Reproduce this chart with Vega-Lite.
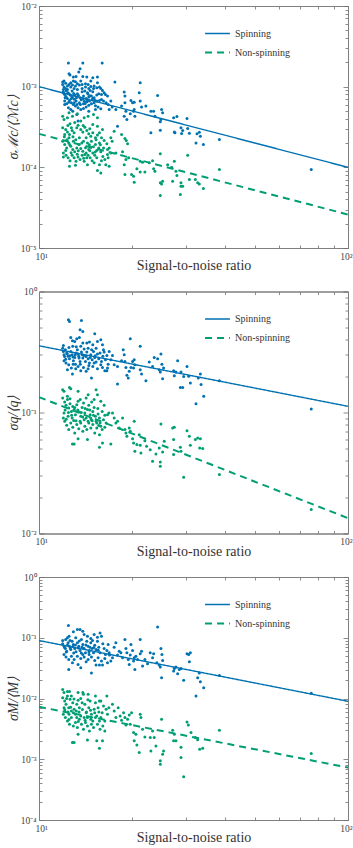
{
"$schema": "https://vega.github.io/schema/vega-lite/v6.json",
"padding": {"left": 5, "top": 0, "right": 0, "bottom": 0},
"spacing": 43.5,
"bounds": "flush",
"config": {
 "font": "Liberation Serif",
 "view": {"stroke": "#7f7f7f", "strokeWidth": 1},
 "axis": {"domainColor": "#7f7f7f", "tickColor": "#6f6f6f", "tickWidth": 0.8, "labelFont": "Liberation Serif", "labelFontSize": 9.5, "labelColor": "#444444", "titleFont": "Liberation Serif", "titleFontSize": 14, "titleFontWeight": "normal", "titleColor": "#333333", "grid": false, "labelFlush": false, "labelOverlap": false, "labelBound": false, "labelPadding": 8},
 "legend": {"labelFont": "Liberation Serif", "labelFontSize": 10, "labelColor": "#333333", "symbolType": "stroke", "symbolSize": 620, "labelOffset": 4, "rowPadding": -4, "title": null}
},
"datasets": {
 "l1": [{"snr":10,"err":1.0e-3,"kind":"Spinning"},{"snr":100,"err":1.0e-4,"kind":"Spinning"},{"snr":10,"err":2.6e-4,"kind":"Non-spinning"},{"snr":100,"err":2.6e-5,"kind":"Non-spinning"}],
 "l2": [{"snr":10,"err":0.356,"kind":"Spinning"},{"snr":100,"err":0.1125,"kind":"Spinning"},{"snr":10,"err":0.134,"kind":"Non-spinning"},{"snr":100,"err":0.0134,"kind":"Non-spinning"}],
 "l3": [{"snr":10,"err":0.090,"kind":"Spinning"},{"snr":100,"err":0.0090,"kind":"Spinning"},{"snr":10,"err":0.0073,"kind":"Non-spinning"},{"snr":100,"err":0.00073,"kind":"Non-spinning"}],
 "p1s": [
{"snr":17.60,"err":1.139e-3},{"snr":18.87,"err":8.56e-4},{"snr":18.97,"err":7.64e-4},{"snr":21.26,"err":1.118e-3},{"snr":18.97,"err":6.31e-4},{"snr":18.50,"err":5.74e-4},{"snr":17.73,"err":5.22e-4},{"snr":19.11,"err":4.97e-4},{"snr":19.84,"err":6.75e-4},{"snr":20.08,"err":6.31e-4},{"snr":20.33,"err":5.22e-4},{"snr":20.23,"err":4.97e-4},{"snr":19.74,"err":4.61e-4},{"snr":20.43,"err":4.31e-4},{"snr":17.95,"err":3.24e-4},{"snr":18.87,"err":4.31e-4},{"snr":19.25,"err":3.92e-4},{"snr":21.10,"err":8.40e-4},{"snr":21.26,"err":6.62e-4},{"snr":21.47,"err":5.58e-4},{"snr":20.33,"err":6.43e-4},{"snr":22.18,"err":5.74e-4},{"snr":23.02,"err":4.97e-4},{"snr":23.49,"err":4.97e-4},{"snr":23.72,"err":4.31e-4},{"snr":24.20,"err":7.78e-4},{"snr":24.93,"err":5.22e-4},{"snr":25.12,"err":4.74e-4},{"snr":23.02,"err":2.68e-4},{"snr":24.69,"err":2.89e-4},{"snr":24.81,"err":3.92e-4},{"snr":24.69,"err":3.67e-4},{"snr":27.27,"err":4.11e-4},{"snr":27.41,"err":2.75e-4},{"snr":27.54,"err":2.68e-4},{"snr":27.95,"err":4.27e-4},{"snr":28.81,"err":3.09e-4},{"snr":28.95,"err":2.63e-4},{"snr":29.17,"err":2.86e-4},{"snr":30.13,"err":4.03e-4},{"snr":30.28,"err":3.03e-4},{"snr":30.66,"err":2.65e-4},{"snr":32.46,"err":2.60e-4},{"snr":32.22,"err":2.01e-4},{"snr":33.03,"err":2.73e-4},{"snr":33.28,"err":2.43e-4},{"snr":34.04,"err":1.92e-4},{"snr":38.35,"err":2.21e-4},{"snr":76.04,"err":9.39e-5},
{"snr":12.45,"err":1.961e-3},{"snr":13.86,"err":1.961e-3},{"snr":16.01,"err":1.961e-3},{"snr":12.51,"err":1.446e-3},{"snr":12.60,"err":1.40e-3},{"snr":13.58,"err":1.668e-3},{"snr":13.45,"err":1.516e-3},{"snr":13.18,"err":1.340e-3},{"snr":13.86,"err":1.340e-3},{"snr":11.93,"err":1.139e-3},{"snr":11.93,"err":1.066e-3},{"snr":12.05,"err":9.88e-4},{"snr":11.99,"err":9.24e-4},{"snr":12.20,"err":9.51e-4},{"snr":12.36,"err":1.016e-3},{"snr":12.51,"err":1.066e-3},{"snr":12.67,"err":1.118e-3},{"snr":12.92,"err":1.172e-3},{"snr":13.12,"err":1.15e-3},{"snr":13.31,"err":1.086e-3},{"snr":13.51,"err":1.045e-3},{"snr":13.79,"err":1.066e-3},{"snr":14.14,"err":1.086e-3},{"snr":14.42,"err":1.066e-3},{"snr":14.71,"err":1.006e-3},{"snr":15.01,"err":9.51e-4},{"snr":15.38,"err":9.69e-4},{"snr":15.69,"err":9.88e-4},{"snr":15.85,"err":9.51e-4},{"snr":16.05,"err":8.98e-4},{"snr":16.25,"err":8.40e-4},{"snr":16.41,"err":8.01e-4},{"snr":16.66,"err":7.64e-4},{"snr":11.99,"err":8.64e-4},{"snr":12.11,"err":8.01e-4},{"snr":12.23,"err":7.56e-4},{"snr":12.36,"err":7.14e-4},{"snr":12.55,"err":6.75e-4},{"snr":12.73,"err":6.31e-4},{"snr":12.92,"err":6.02e-4},{"snr":13.12,"err":5.74e-4},{"snr":13.38,"err":5.47e-4},{"snr":13.65,"err":5.22e-4},{"snr":13.93,"err":5.37e-4},{"snr":14.21,"err":5.58e-4},{"snr":14.49,"err":5.90e-4},{"snr":14.78,"err":6.13e-4},{"snr":15.08,"err":6.31e-4},{"snr":15.38,"err":6.62e-4},{"snr":15.69,"err":6.75e-4},{"snr":15.93,"err":6.94e-4},{"snr":16.17,"err":6.62e-4},{"snr":16.49,"err":6.31e-4},{"snr":16.74,"err":6.02e-4},{"snr":12.45,"err":5.47e-4},{"snr":12.67,"err":5.22e-4},{"snr":13.25,"err":4.52e-4},{"snr":14.49,"err":4.97e-4},{"snr":15.23,"err":5.22e-4},{"snr":13.58,"err":7.28e-4},{"snr":13.93,"err":7.64e-4},{"snr":14.21,"err":7.14e-4},{"snr":14.49,"err":7.42e-4},{"snr":14.78,"err":7.64e-4},{"snr":15.08,"err":7.28e-4},{"snr":15.38,"err":7.86e-4},{"snr":13.31,"err":8.16e-4},{"snr":13.05,"err":7.86e-4},{"snr":12.80,"err":8.81e-4},{"snr":12.51,"err":8.16e-4},{"snr":13.31,"err":9.24e-4},{"snr":13.79,"err":8.64e-4},{"snr":14.07,"err":8.81e-4},{"snr":14.35,"err":8.40e-4},{"snr":14.64,"err":8.98e-4},{"snr":14.93,"err":8.64e-4},{"snr":15.61,"err":8.16e-4},{"snr":15.93,"err":8.01e-4},{"snr":12.36,"err":9.24e-4},{"snr":12.67,"err":9.88e-4},{"snr":12.99,"err":9.51e-4},{"snr":13.79,"err":9.51e-4},{"snr":14.14,"err":9.88e-4},{"snr":17.08,"err":6.62e-4},{"snr":17.25,"err":5.58e-4},{"snr":16.87,"err":5.22e-4},{"snr":15.85,"err":5.32e-4},{"snr":13.38,"err":3.74e-4},{"snr":12.86,"err":4.97e-4},{"snr":12.11,"err":6.62e-4},{"snr":12.11,"err":6.02e-4},{"snr":12.29,"err":6.13e-4},{"snr":12.83,"err":7.28e-4},{"snr":13.18,"err":6.62e-4},{"snr":13.51,"err":6.31e-4},{"snr":13.93,"err":6.13e-4},{"snr":14.28,"err":6.50e-4},{"snr":14.56,"err":6.62e-4},{"snr":14.86,"err":6.88e-4},{"snr":15.23,"err":5.79e-4},{"snr":15.53,"err":5.58e-4},{"snr":15.08,"err":1.016e-3},{"snr":15.46,"err":1.118e-3},{"snr":14.49,"err":9.51e-4},{"snr":14.71,"err":1.172e-3},{"snr":12.05,"err":1.172e-3},{"snr":12.20,"err":1.10e-3},{"snr":12.83,"err":1.045e-3},{"snr":13.12,"err":1.016e-3},{"snr":13.65,"err":1.172e-3},{"snr":14.93,"err":1.290e-3},{"snr":15.46,"err":1.314e-3},{"snr":14.28,"err":1.314e-3},{"snr":12.92,"err":1.314e-3},
{"snr":12.02,"err":8.3e-4},{"snr":12.26,"err":8.9e-4},{"snr":12.40,"err":8.4e-4},{"snr":12.62,"err":7.9e-4},{"snr":12.78,"err":7.6e-4},{"snr":12.95,"err":8.2e-4},{"snr":13.02,"err":7.0e-4},{"snr":13.22,"err":7.3e-4},{"snr":13.41,"err":7.8e-4},{"snr":13.70,"err":6.9e-4},{"snr":13.88,"err":7.1e-4},{"snr":14.02,"err":6.6e-4},{"snr":14.33,"err":6.9e-4},{"snr":14.60,"err":7.7e-4},{"snr":14.95,"err":7.2e-4},{"snr":15.15,"err":6.8e-4},{"snr":12.15,"err":7.3e-4},{"snr":12.48,"err":6.4e-4},{"snr":12.70,"err":7.1e-4},{"snr":13.00,"err":6.3e-4},{"snr":13.28,"err":6.0e-4},{"snr":13.62,"err":6.0e-4},{"snr":14.10,"err":6.2e-4},{"snr":14.40,"err":8.1e-4}
 ],
 "p1n": [
{"snr":17.51,"err":2.81e-4},{"snr":18.50,"err":2.55e-4},{"snr":18.97,"err":2.28e-4},{"snr":19.16,"err":2.15e-4},{"snr":19.35,"err":1.96e-4},{"snr":17.73,"err":1.51e-4},{"snr":18.64,"err":1.56e-4},{"snr":19.11,"err":1.25e-4},{"snr":18.87,"err":1.08e-4},{"snr":18.97,"err":8.14e-5},{"snr":19.50,"err":1.31e-4},{"snr":19.93,"err":8.14e-5},{"snr":20.23,"err":7.76e-5},{"snr":20.33,"err":6.54e-5},{"snr":20.74,"err":9.57e-5},{"snr":21.26,"err":1.19e-4},{"snr":21.26,"err":8.78e-5},{"snr":21.63,"err":1.16e-4},{"snr":22.01,"err":8.78e-5},{"snr":22.74,"err":1.14e-4},{"snr":23.31,"err":1.21e-4},{"snr":23.49,"err":9.57e-5},{"snr":23.72,"err":8.95e-5},{"snr":24.69,"err":1.47e-4},{"snr":24.69,"err":6.42e-5},{"snr":24.93,"err":6.23e-5},{"snr":25.12,"err":6.73e-5},{"snr":24.69,"err":4.47e-5},{"snr":26.08,"err":1.08e-4},{"snr":26.87,"err":1.00e-4},{"snr":27.07,"err":6.73e-5},{"snr":27.41,"err":1.19e-4},{"snr":27.75,"err":8.95e-5},{"snr":27.95,"err":7.91e-5},{"snr":28.81,"err":6.42e-5},{"snr":28.81,"err":5.83e-5},{"snr":28.67,"err":4.60e-5},{"snr":29.17,"err":5.83e-5},{"snr":30.28,"err":1.41e-4},{"snr":30.66,"err":7.06e-5},{"snr":32.06,"err":7.06e-5},{"snr":32.62,"err":6.42e-5},{"snr":33.03,"err":6.23e-5},{"snr":34.04,"err":5.46e-5},{"snr":38.35,"err":9.39e-5},
{"snr":11.93,"err":4.31e-4},{"snr":12.05,"err":3.92e-4},{"snr":12.36,"err":4.11e-4},{"snr":12.51,"err":4.74e-4},{"snr":12.60,"err":3.46e-4},{"snr":12.73,"err":3.09e-4},{"snr":11.93,"err":3.09e-4},{"snr":12.20,"err":2.94e-4},{"snr":12.36,"err":2.75e-4},{"snr":12.55,"err":2.55e-4},{"snr":12.80,"err":2.86e-4},{"snr":12.99,"err":2.68e-4},{"snr":13.25,"err":3.09e-4},{"snr":13.38,"err":3.33e-4},{"snr":13.65,"err":2.94e-4},{"snr":13.86,"err":2.75e-4},{"snr":14.07,"err":3.15e-4},{"snr":14.28,"err":2.86e-4},{"snr":14.49,"err":2.60e-4},{"snr":14.71,"err":2.43e-4},{"snr":14.93,"err":2.68e-4},{"snr":15.23,"err":2.32e-4},{"snr":15.46,"err":2.51e-4},{"snr":15.69,"err":2.68e-4},{"snr":15.93,"err":2.32e-4},{"snr":16.25,"err":2.15e-4},{"snr":16.58,"err":1.96e-4},{"snr":11.93,"err":2.11e-4},{"snr":12.11,"err":1.92e-4},{"snr":12.29,"err":1.74e-4},{"snr":12.48,"err":2.01e-4},{"snr":12.67,"err":1.83e-4},{"snr":12.86,"err":1.66e-4},{"snr":13.05,"err":1.56e-4},{"snr":13.25,"err":1.74e-4},{"snr":13.45,"err":1.92e-4},{"snr":13.65,"err":1.71e-4},{"snr":13.86,"err":1.58e-4},{"snr":14.07,"err":1.44e-4},{"snr":14.28,"err":1.31e-4},{"snr":14.49,"err":1.66e-4},{"snr":14.71,"err":1.78e-4},{"snr":14.93,"err":1.51e-4},{"snr":15.15,"err":1.41e-4},{"snr":15.38,"err":1.62e-4},{"snr":15.61,"err":1.74e-4},{"snr":15.85,"err":1.56e-4},{"snr":16.09,"err":1.36e-4},{"snr":16.33,"err":1.25e-4},{"snr":16.66,"err":1.44e-4},{"snr":11.99,"err":1.51e-4},{"snr":12.23,"err":1.41e-4},{"snr":12.42,"err":1.31e-4},{"snr":12.60,"err":1.21e-4},{"snr":12.80,"err":1.41e-4},{"snr":12.99,"err":1.31e-4},{"snr":13.18,"err":1.19e-4},{"snr":13.38,"err":1.34e-4},{"snr":13.58,"err":1.25e-4},{"snr":13.79,"err":1.41e-4},{"snr":14.00,"err":1.19e-4},{"snr":14.21,"err":1.51e-4},{"snr":14.42,"err":1.41e-4},{"snr":14.64,"err":1.31e-4},{"snr":14.86,"err":1.21e-4},{"snr":15.08,"err":1.14e-4},{"snr":15.38,"err":1.31e-4},{"snr":15.69,"err":1.08e-4},{"snr":15.93,"err":1.21e-4},{"snr":11.99,"err":1.34e-4},{"snr":12.55,"err":1.03e-4},{"snr":13.12,"err":1.06e-4},{"snr":14.35,"err":1.08e-4},{"snr":15.46,"err":9.13e-5},{"snr":15.85,"err":8.53e-5},{"snr":17.08,"err":2.32e-4},{"snr":17.25,"err":2.11e-4},{"snr":16.87,"err":1.74e-4},{"snr":17.08,"err":1.51e-4},{"snr":16.66,"err":1.66e-4},{"snr":16.74,"err":1.31e-4},{"snr":16.45,"err":1.08e-4},{"snr":16.87,"err":1.03e-4},{"snr":12.51,"err":2.32e-4},{"snr":12.92,"err":2.11e-4},{"snr":13.51,"err":2.32e-4},{"snr":13.93,"err":2.11e-4},{"snr":14.35,"err":2.01e-4},{"snr":14.78,"err":2.11e-4},{"snr":15.23,"err":1.92e-4},{"snr":15.69,"err":2.01e-4},{"snr":16.17,"err":1.74e-4},{"snr":12.11,"err":2.55e-4},{"snr":13.65,"err":3.74e-4},{"snr":14.00,"err":4.11e-4},{"snr":14.42,"err":4.31e-4},{"snr":15.01,"err":4.52e-4},{"snr":15.46,"err":4.11e-4},{"snr":13.31,"err":4.61e-4},{"snr":12.83,"err":4.31e-4},{"snr":14.93,"err":3.40e-4},{"snr":15.46,"err":3.24e-4},{"snr":16.05,"err":2.94e-4},{"snr":14.21,"err":2.32e-4},
{"snr":12.08,"err":2.4e-4},{"snr":12.32,"err":2.2e-4},{"snr":12.58,"err":1.9e-4},{"snr":12.88,"err":2.4e-4},{"snr":13.15,"err":2.2e-4},{"snr":13.40,"err":1.6e-4},{"snr":13.75,"err":2.0e-4},{"snr":14.15,"err":1.75e-4},{"snr":14.55,"err":1.9e-4},{"snr":15.00,"err":1.8e-4},{"snr":15.30,"err":2.2e-4},{"snr":15.80,"err":1.9e-4},{"snr":12.20,"err":1.62e-4},{"snr":12.70,"err":1.52e-4},{"snr":13.30,"err":1.45e-4},{"snr":13.95,"err":1.3e-4},{"snr":14.60,"err":1.6e-4},{"snr":15.20,"err":1.55e-4},{"snr":12.40,"err":3.3e-4},{"snr":13.05,"err":3.6e-4},{"snr":13.90,"err":3.3e-4},{"snr":14.60,"err":3.0e-4}
 ],
 "p2s": [
{"snr":17.29,"err":0.296},{"snr":17.51,"err":0.248},{"snr":17.95,"err":0.240},{"snr":17.95,"err":0.172},{"snr":18.50,"err":0.268},{"snr":18.73,"err":0.330},{"snr":18.87,"err":0.300},{"snr":18.97,"err":0.264},{"snr":19.11,"err":0.236},{"snr":19.25,"err":0.203},{"snr":19.45,"err":0.193},{"snr":19.59,"err":0.219},{"snr":19.74,"err":0.407},{"snr":19.84,"err":0.236},{"snr":20.08,"err":0.264},{"snr":20.23,"err":0.233},{"snr":20.33,"err":0.273},{"snr":20.43,"err":0.248},{"snr":21.26,"err":0.352},{"snr":21.26,"err":0.226},{"snr":21.47,"err":0.208},{"snr":22.18,"err":0.183},{"snr":22.74,"err":0.261},{"snr":23.31,"err":0.240},{"snr":23.60,"err":0.285},{"snr":24.20,"err":0.278},{"snr":24.50,"err":0.226},{"snr":24.69,"err":0.216},{"snr":24.81,"err":0.304},{"snr":24.99,"err":0.251},{"snr":25.12,"err":0.190},{"snr":25.30,"err":0.233},{"snr":27.27,"err":0.221},{"snr":27.41,"err":0.201},{"snr":27.75,"err":0.216},{"snr":28.10,"err":0.268},{"snr":28.67,"err":0.161},{"snr":29.17,"err":0.161},{"snr":28.81,"err":0.216},{"snr":29.39,"err":0.198},{"snr":30.13,"err":0.240},{"snr":30.51,"err":0.199},{"snr":30.89,"err":0.175},{"snr":32.22,"err":0.118},{"snr":32.78,"err":0.193},{"snr":33.28,"err":0.208},{"snr":33.45,"err":0.170},{"snr":34.12,"err":0.136},{"snr":38.35,"err":0.183},{"snr":76.04,"err":0.107},
{"snr":12.45,"err":0.583},{"snr":12.55,"err":0.565},{"snr":13.72,"err":0.576},{"snr":13.58,"err":0.483},{"snr":13.86,"err":0.468},{"snr":15.15,"err":0.447},{"snr":12.67,"err":0.417},{"snr":12.83,"err":0.392},{"snr":13.05,"err":0.387},{"snr":13.25,"err":0.407},{"snr":13.51,"err":0.417},{"snr":14.28,"err":0.375},{"snr":14.56,"err":0.382},{"snr":14.93,"err":0.363},{"snr":15.46,"err":0.387},{"snr":15.85,"err":0.399},{"snr":16.05,"err":0.363},{"snr":11.93,"err":0.340},{"snr":11.99,"err":0.320},{"snr":12.05,"err":0.300},{"snr":12.17,"err":0.330},{"snr":12.29,"err":0.310},{"snr":12.42,"err":0.291},{"snr":12.55,"err":0.278},{"snr":12.67,"err":0.320},{"snr":12.80,"err":0.300},{"snr":12.92,"err":0.268},{"snr":13.05,"err":0.285},{"snr":13.18,"err":0.310},{"snr":13.31,"err":0.330},{"snr":13.45,"err":0.291},{"snr":13.58,"err":0.264},{"snr":13.72,"err":0.316},{"snr":13.86,"err":0.282},{"snr":14.00,"err":0.296},{"snr":14.14,"err":0.264},{"snr":14.28,"err":0.316},{"snr":14.42,"err":0.278},{"snr":14.56,"err":0.256},{"snr":14.71,"err":0.300},{"snr":14.86,"err":0.273},{"snr":15.01,"err":0.320},{"snr":15.15,"err":0.285},{"snr":15.30,"err":0.261},{"snr":15.46,"err":0.304},{"snr":15.61,"err":0.278},{"snr":15.76,"err":0.310},{"snr":15.93,"err":0.264},{"snr":16.09,"err":0.291},{"snr":16.25,"err":0.316},{"snr":16.41,"err":0.273},{"snr":16.58,"err":0.296},{"snr":16.74,"err":0.251},{"snr":12.05,"err":0.268},{"snr":12.23,"err":0.256},{"snr":12.48,"err":0.248},{"snr":12.73,"err":0.233},{"snr":13.12,"err":0.251},{"snr":13.38,"err":0.240},{"snr":13.93,"err":0.236},{"snr":14.42,"err":0.230},{"snr":14.93,"err":0.240},{"snr":15.46,"err":0.230},{"snr":16.05,"err":0.236},{"snr":16.58,"err":0.221},{"snr":12.83,"err":0.208},{"snr":14.78,"err":0.193},{"snr":14.21,"err":0.219},{"snr":13.65,"err":0.221},{"snr":13.15,"err":0.230},{"snr":12.36,"err":0.226},{"snr":12.86,"err":0.352},{"snr":13.65,"err":0.352},{"snr":14.42,"err":0.340},{"snr":15.30,"err":0.340},{"snr":16.17,"err":0.330},{"snr":11.99,"err":0.358},{"snr":17.08,"err":0.273},{"snr":16.87,"err":0.320},{"snr":16.66,"err":0.233},{"snr":16.33,"err":0.221},{"snr":13.86,"err":0.375},{"snr":15.08,"err":0.256},{"snr":15.85,"err":0.248},{"snr":13.48,"err":0.282},
{"snr":12.10,"err":0.290},{"snr":12.35,"err":0.305},{"snr":12.60,"err":0.295},{"snr":12.88,"err":0.288},{"snr":13.10,"err":0.300},{"snr":13.40,"err":0.305},{"snr":13.80,"err":0.300},{"snr":14.20,"err":0.290},{"snr":14.65,"err":0.285},{"snr":15.20,"err":0.295},{"snr":12.20,"err":0.275},{"snr":12.90,"err":0.250},{"snr":13.60,"err":0.250},{"snr":14.50,"err":0.245},{"snr":12.50,"err":0.345},{"snr":13.20,"err":0.350},{"snr":14.00,"err":0.335},{"snr":14.80,"err":0.330}
 ],
 "p2n": [
{"snr":17.29,"err":0.0991},{"snr":17.51,"err":0.0901},{"snr":17.73,"err":0.0819},{"snr":17.95,"err":0.0845},{"snr":18.18,"err":0.0745},{"snr":18.64,"err":0.0901},{"snr":18.97,"err":0.0722},{"snr":19.11,"err":0.0677},{"snr":19.25,"err":0.0636},{"snr":19.59,"err":0.0745},{"snr":19.74,"err":0.0699},{"snr":20.08,"err":0.0608},{"snr":20.23,"err":0.0560},{"snr":20.33,"err":0.0845},{"snr":20.43,"err":0.0478},{"snr":20.74,"err":0.0543},{"snr":21.10,"err":0.0656},{"snr":21.26,"err":0.0536},{"snr":21.37,"err":0.0463},{"snr":22.01,"err":0.0585},{"snr":22.29,"err":0.0526},{"snr":22.91,"err":0.0493},{"snr":23.31,"err":0.0395},{"snr":23.90,"err":0.0454},{"snr":24.50,"err":0.0509},{"snr":24.69,"err":0.0390},{"snr":24.69,"err":0.0359},{"snr":24.81,"err":0.0804},{"snr":25.12,"err":0.0472},{"snr":25.43,"err":0.0578},{"snr":27.07,"err":0.0745},{"snr":27.27,"err":0.0597},{"snr":27.41,"err":0.0754},{"snr":27.27,"err":0.0449},{"snr":28.67,"err":0.0516},{"snr":28.81,"err":0.0478},{"snr":29.39,"err":0.0292},{"snr":30.13,"err":0.0708},{"snr":30.66,"err":0.0636},{"snr":30.89,"err":0.0536},{"snr":32.06,"err":0.0597},{"snr":32.62,"err":0.0616},{"snr":33.11,"err":0.0509},{"snr":33.28,"err":0.0608},{"snr":33.87,"err":0.0503},{"snr":38.35,"err":0.0307},{"snr":76.04,"err":0.0158},
{"snr":11.93,"err":0.154},{"snr":12.05,"err":0.150},{"snr":12.36,"err":0.136},{"snr":12.55,"err":0.161},{"snr":12.67,"err":0.157},{"snr":11.93,"err":0.132},{"snr":12.11,"err":0.122},{"snr":12.23,"err":0.115},{"snr":12.36,"err":0.128},{"snr":12.48,"err":0.109},{"snr":12.60,"err":0.118},{"snr":12.73,"err":0.102},{"snr":12.86,"err":0.112},{"snr":12.99,"err":0.106},{"snr":13.12,"err":0.0960},{"snr":13.25,"err":0.116},{"snr":13.38,"err":0.124},{"snr":13.51,"err":0.101},{"snr":13.65,"err":0.0930},{"snr":13.79,"err":0.110},{"snr":13.93,"err":0.120},{"snr":14.07,"err":0.0991},{"snr":14.21,"err":0.0901},{"snr":14.35,"err":0.106},{"snr":14.49,"err":0.115},{"snr":14.64,"err":0.0960},{"snr":14.78,"err":0.0873},{"snr":14.93,"err":0.102},{"snr":15.08,"err":0.110},{"snr":15.23,"err":0.0930},{"snr":15.38,"err":0.0819},{"snr":15.53,"err":0.0972},{"snr":15.69,"err":0.0901},{"snr":15.85,"err":0.0769},{"snr":16.01,"err":0.102},{"snr":16.17,"err":0.0873},{"snr":16.33,"err":0.0948},{"snr":16.49,"err":0.0819},{"snr":16.66,"err":0.0960},{"snr":16.83,"err":0.0991},{"snr":11.99,"err":0.0901},{"snr":12.11,"err":0.0845},{"snr":12.29,"err":0.0783},{"snr":12.48,"err":0.0722},{"snr":12.67,"err":0.0819},{"snr":12.86,"err":0.0754},{"snr":13.05,"err":0.0677},{"snr":13.25,"err":0.0794},{"snr":13.45,"err":0.0735},{"snr":13.65,"err":0.0819},{"snr":13.86,"err":0.0699},{"snr":14.07,"err":0.0769},{"snr":14.28,"err":0.0722},{"snr":14.49,"err":0.0819},{"snr":14.71,"err":0.0745},{"snr":14.93,"err":0.0794},{"snr":15.15,"err":0.0677},{"snr":15.38,"err":0.0745},{"snr":15.69,"err":0.0656},{"snr":16.01,"err":0.0722},{"snr":16.33,"err":0.0754},{"snr":12.05,"err":0.0991},{"snr":12.42,"err":0.0930},{"snr":12.80,"err":0.0901},{"snr":13.18,"err":0.0856},{"snr":13.58,"err":0.0845},{"snr":14.00,"err":0.0873},{"snr":14.42,"err":0.0845},{"snr":14.86,"err":0.0856},{"snr":15.30,"err":0.0845},{"snr":15.76,"err":0.0819},{"snr":12.83,"err":0.0550},{"snr":12.99,"err":0.0550},{"snr":13.38,"err":0.0608},{"snr":14.35,"err":0.0597},{"snr":15.69,"err":0.0516},{"snr":16.05,"err":0.0560},{"snr":17.08,"err":0.0550},{"snr":15.46,"err":0.140},{"snr":15.08,"err":0.128},{"snr":15.85,"err":0.124},{"snr":16.25,"err":0.115},{"snr":14.21,"err":0.132},{"snr":13.38,"err":0.150},{"snr":14.42,"err":0.140},{"snr":15.30,"err":0.154},
{"snr":12.15,"err":0.105},{"snr":12.45,"err":0.100},{"snr":12.75,"err":0.095},{"snr":13.05,"err":0.110},{"snr":13.35,"err":0.105},{"snr":13.70,"err":0.100},{"snr":14.10,"err":0.108},{"snr":14.60,"err":0.105},{"snr":15.00,"err":0.095},{"snr":15.50,"err":0.108},{"snr":12.25,"err":0.088},{"snr":12.95,"err":0.086},{"snr":13.85,"err":0.092},{"snr":14.70,"err":0.090},{"snr":15.60,"err":0.078},{"snr":12.60,"err":0.130},{"snr":13.60,"err":0.128},{"snr":14.80,"err":0.122}
 ],
 "p3s": [
{"snr":17.51,"err":0.0700},{"snr":17.73,"err":0.0825},{"snr":17.95,"err":0.0518},{"snr":18.18,"err":0.0602},{"snr":18.41,"err":0.0565},{"snr":18.64,"err":0.0468},{"snr":18.97,"err":0.0936},{"snr":19.11,"err":0.0666},{"snr":19.25,"err":0.0565},{"snr":19.45,"err":0.0440},{"snr":19.59,"err":0.0364},{"snr":19.74,"err":0.0518},{"snr":19.84,"err":0.0775},{"snr":20.08,"err":0.0618},{"snr":20.23,"err":0.0413},{"snr":20.33,"err":0.0468},{"snr":20.43,"err":0.0301},{"snr":20.58,"err":0.0498},{"snr":20.84,"err":0.0440},{"snr":21.26,"err":0.0936},{"snr":21.26,"err":0.0545},{"snr":21.47,"err":0.0602},{"snr":21.63,"err":0.0342},{"snr":22.01,"err":0.0440},{"snr":22.45,"err":0.0373},{"snr":22.91,"err":0.0565},{"snr":23.31,"err":0.0468},{"snr":23.49,"err":0.0545},{"snr":24.08,"err":0.0387},{"snr":24.20,"err":0.151},{"snr":24.50,"err":0.0355},{"snr":24.69,"err":0.0329},{"snr":24.81,"err":0.0666},{"snr":24.93,"err":0.0220},{"snr":24.99,"err":0.0531},{"snr":25.12,"err":0.0423},{"snr":27.27,"err":0.0283},{"snr":27.41,"err":0.0313},{"snr":27.75,"err":0.0329},{"snr":28.10,"err":0.0256},{"snr":28.45,"err":0.0301},{"snr":28.81,"err":0.0313},{"snr":29.39,"err":0.0199},{"snr":30.13,"err":0.0545},{"snr":30.51,"err":0.0531},{"snr":30.66,"err":0.0402},{"snr":30.89,"err":0.0565},{"snr":32.22,"err":0.0110},{"snr":32.62,"err":0.0220},{"snr":33.03,"err":0.0262},{"snr":33.28,"err":0.0189},{"snr":34.12,"err":0.0151},{"snr":38.35,"err":0.0240},{"snr":76.04,"err":0.0122},
{"snr":12.45,"err":0.159},{"snr":13.31,"err":0.137},{"snr":13.58,"err":0.137},{"snr":13.86,"err":0.128},{"snr":12.92,"err":0.125},{"snr":12.51,"err":0.106},{"snr":12.20,"err":0.0936},{"snr":11.93,"err":0.0901},{"snr":11.93,"err":0.0795},{"snr":12.05,"err":0.0727},{"snr":12.17,"err":0.0666},{"snr":12.29,"err":0.0602},{"snr":12.42,"err":0.0825},{"snr":12.55,"err":0.0727},{"snr":12.67,"err":0.0641},{"snr":12.80,"err":0.0879},{"snr":12.92,"err":0.0775},{"snr":13.05,"err":0.0666},{"snr":13.18,"err":0.0587},{"snr":13.31,"err":0.0825},{"snr":13.45,"err":0.0727},{"snr":13.58,"err":0.0618},{"snr":13.72,"err":0.0936},{"snr":13.86,"err":0.0775},{"snr":14.00,"err":0.0666},{"snr":14.14,"err":0.0565},{"snr":14.28,"err":0.0879},{"snr":14.42,"err":0.0727},{"snr":14.56,"err":0.0618},{"snr":14.71,"err":0.0825},{"snr":14.86,"err":0.0666},{"snr":15.01,"err":0.0565},{"snr":15.15,"err":0.0755},{"snr":15.30,"err":0.0641},{"snr":15.46,"err":0.0879},{"snr":15.61,"err":0.0700},{"snr":15.76,"err":0.0565},{"snr":15.93,"err":0.106},{"snr":16.09,"err":0.0795},{"snr":16.25,"err":0.0666},{"snr":16.41,"err":0.0531},{"snr":16.58,"err":0.0618},{"snr":16.74,"err":0.0775},{"snr":16.91,"err":0.0518},{"snr":12.05,"err":0.0531},{"snr":12.23,"err":0.0480},{"snr":12.48,"err":0.0440},{"snr":12.73,"err":0.0498},{"snr":12.99,"err":0.0440},{"snr":13.31,"err":0.0498},{"snr":13.65,"err":0.0456},{"snr":14.00,"err":0.0480},{"snr":14.42,"err":0.0440},{"snr":14.78,"err":0.0480},{"snr":15.15,"err":0.0423},{"snr":15.53,"err":0.0468},{"snr":15.93,"err":0.0413},{"snr":16.33,"err":0.0456},{"snr":16.66,"err":0.0387},{"snr":12.48,"err":0.0301},{"snr":12.83,"err":0.0387},{"snr":13.38,"err":0.0364},{"snr":14.78,"err":0.0262},{"snr":15.30,"err":0.0355},{"snr":15.69,"err":0.0355},{"snr":16.05,"err":0.0355},{"snr":14.35,"err":0.106},{"snr":15.08,"err":0.113},{"snr":15.76,"err":0.120},{"snr":14.00,"err":0.113},{"snr":14.71,"err":0.0972},{"snr":15.46,"err":0.102},{"snr":12.36,"err":0.0997},{"snr":13.15,"err":0.0997},{"snr":13.86,"err":0.0531},{"snr":14.53,"err":0.0531},{"snr":14.21,"err":0.0402},{"snr":13.65,"err":0.0321},{"snr":17.08,"err":0.0413},{"snr":16.87,"err":0.0565},{"snr":17.29,"err":0.0468},
{"snr":12.10,"err":0.0690},{"snr":12.36,"err":0.0760},{"snr":12.62,"err":0.0680},{"snr":12.86,"err":0.0720},{"snr":13.12,"err":0.0760},{"snr":13.40,"err":0.0680},{"snr":13.78,"err":0.0700},{"snr":14.18,"err":0.0760},{"snr":14.62,"err":0.0700},{"snr":15.05,"err":0.0690},{"snr":15.55,"err":0.0620},{"snr":12.25,"err":0.0580},{"snr":12.95,"err":0.0560},{"snr":13.70,"err":0.0560},{"snr":14.50,"err":0.0580},{"snr":12.60,"err":0.0900},{"snr":13.50,"err":0.0880},{"snr":14.90,"err":0.0900}
 ],
 "p3n": [
{"snr":17.29,"err":0.00802},{"snr":17.51,"err":0.00623},{"snr":17.73,"err":0.00485},{"snr":18.04,"err":0.00707},{"snr":18.31,"err":0.00516},{"snr":18.50,"err":0.00438},{"snr":18.78,"err":0.00585},{"snr":18.97,"err":0.00485},{"snr":19.11,"err":0.00367},{"snr":19.35,"err":0.00455},{"snr":19.59,"err":0.00536},{"snr":19.74,"err":0.00377},{"snr":19.93,"err":0.00585},{"snr":20.23,"err":0.00275},{"snr":20.33,"err":0.00201},{"snr":20.58,"err":0.00258},{"snr":20.74,"err":0.00172},{"snr":21.10,"err":0.00129},{"snr":21.26,"err":0.00550},{"snr":21.37,"err":0.00485},{"snr":21.63,"err":0.00312},{"snr":22.01,"err":0.00233},{"snr":22.91,"err":0.00228},{"snr":23.02,"err":0.00137},{"snr":23.31,"err":0.00293},{"snr":23.60,"err":0.00228},{"snr":23.90,"err":0.00166},{"snr":24.69,"err":0.000942},{"snr":24.69,"err":0.000830},{"snr":24.93,"err":0.00455},{"snr":25.12,"err":0.00121},{"snr":25.30,"err":0.00137},{"snr":27.07,"err":0.00300},{"snr":27.41,"err":0.00258},{"snr":27.27,"err":0.00201},{"snr":27.75,"err":0.00201},{"snr":28.81,"err":0.00157},{"snr":28.81,"err":0.00107},{"snr":29.39,"err":0.000514},{"snr":30.13,"err":0.00411},{"snr":30.43,"err":0.00367},{"snr":31.04,"err":0.00275},{"snr":32.06,"err":0.00228},{"snr":32.62,"err":0.00210},{"snr":33.11,"err":0.00146},{"snr":33.87,"err":0.00152},{"snr":38.35,"err":0.00300},{"snr":76.04,"err":0.00124},
{"snr":11.93,"err":0.0141},{"snr":12.05,"err":0.0125},{"snr":12.36,"err":0.0130},{"snr":12.55,"err":0.0130},{"snr":12.73,"err":0.0110},{"snr":11.93,"err":0.0103},{"snr":12.11,"err":0.00910},{"snr":12.23,"err":0.00802},{"snr":12.36,"err":0.0110},{"snr":12.48,"err":0.00707},{"snr":12.60,"err":0.00969},{"snr":12.73,"err":0.00623},{"snr":12.86,"err":0.00854},{"snr":12.99,"err":0.00664},{"snr":13.12,"err":0.00550},{"snr":13.25,"err":0.00802},{"snr":13.38,"err":0.00933},{"snr":13.51,"err":0.00707},{"snr":13.65,"err":0.00516},{"snr":13.79,"err":0.00854},{"snr":13.93,"err":0.0117},{"snr":14.07,"err":0.00802},{"snr":14.21,"err":0.00585},{"snr":14.35,"err":0.00485},{"snr":14.49,"err":0.00707},{"snr":14.64,"err":0.00910},{"snr":14.78,"err":0.00550},{"snr":14.93,"err":0.00427},{"snr":15.08,"err":0.00664},{"snr":15.23,"err":0.00854},{"snr":15.38,"err":0.00516},{"snr":15.53,"err":0.00707},{"snr":15.69,"err":0.00910},{"snr":15.85,"err":0.00485},{"snr":16.01,"err":0.00585},{"snr":16.17,"err":0.00753},{"snr":16.33,"err":0.00427},{"snr":16.49,"err":0.00664},{"snr":16.66,"err":0.00550},{"snr":16.83,"err":0.00707},{"snr":11.99,"err":0.00550},{"snr":12.17,"err":0.00485},{"snr":12.36,"err":0.00427},{"snr":12.55,"err":0.00377},{"snr":12.73,"err":0.00485},{"snr":12.92,"err":0.00354},{"snr":13.12,"err":0.00401},{"snr":13.31,"err":0.00332},{"snr":13.51,"err":0.00455},{"snr":13.72,"err":0.00377},{"snr":13.93,"err":0.00312},{"snr":14.14,"err":0.00401},{"snr":14.35,"err":0.00354},{"snr":14.56,"err":0.00293},{"snr":14.78,"err":0.00377},{"snr":15.01,"err":0.00332},{"snr":15.23,"err":0.00485},{"snr":15.46,"err":0.00377},{"snr":15.76,"err":0.00312},{"snr":16.09,"err":0.00354},{"snr":16.33,"err":0.00293},{"snr":12.83,"err":0.00188},{"snr":12.99,"err":0.00188},{"snr":13.38,"err":0.00258},{"snr":14.35,"err":0.00208},{"snr":15.69,"err":0.00152},{"snr":16.05,"err":0.00201},{"snr":15.38,"err":0.00201},{"snr":12.05,"err":0.00707},{"snr":12.51,"err":0.00550},{"snr":13.25,"err":0.00485},{"snr":14.00,"err":0.00485},{"snr":14.71,"err":0.00455},{"snr":15.69,"err":0.00427},{"snr":13.86,"err":0.0125},{"snr":14.42,"err":0.0117},{"snr":15.23,"err":0.0110},{"snr":15.85,"err":0.00910},{"snr":13.38,"err":0.0125},{"snr":16.58,"err":0.0110},
{"snr":12.12,"err":0.0065},{"snr":12.40,"err":0.0060},{"snr":12.66,"err":0.0072},{"snr":12.92,"err":0.0058},{"snr":13.20,"err":0.0062},{"snr":13.48,"err":0.0060},{"snr":13.82,"err":0.0066},{"snr":14.25,"err":0.0060},{"snr":14.68,"err":0.0064},{"snr":15.15,"err":0.0058},{"snr":15.62,"err":0.0060},{"snr":12.28,"err":0.0100},{"snr":12.98,"err":0.0098},{"snr":13.65,"err":0.0100},{"snr":14.40,"err":0.0095},{"snr":12.50,"err":0.0045},{"snr":13.40,"err":0.0042},{"snr":14.10,"err":0.0044}
 ]
},
"vconcat": [
 {
  "width": 309, "height": 242,
  "layer": [
   {"data": {"name": "p1s"}, "mark": {"type": "circle", "size": 9, "color": "#0072B2", "opacity": 1},
    "encoding": {
     "x": {"field": "snr", "type": "quantitative", "title": "Signal-to-noise ratio", "scale": {"type": "log", "domain": [10, 100], "nice": false},
      "axis": {"orient": "bottom", "values": [10,20,30,40,50,60,70,80,90,100], "labelExpr": "datum.value == 10 ? '10¹' : datum.value == 100 ? '10²' : ''", "labelFlush": true, "labelFlushOffset": 4, "tickSize": {"condition": {"test": "datum.value == 10 || datum.value == 100", "value": -5}, "value": -3}, "titlePadding": -4, "titleFontWeight": "normal"}},
     "y": {"field": "err", "type": "quantitative", "title": "σℳc/⟨ℳc⟩", "scale": {"type": "log", "domain": [0.00001, 0.01], "nice": false},
      "axis": {"orient": "left", "values": [1e-5,2e-5,3e-5,4e-5,5e-5,6e-5,7e-5,8e-5,9e-5,1e-4,2e-4,3e-4,4e-4,5e-4,6e-4,7e-4,8e-4,9e-4,1e-3,2e-3,3e-3,4e-3,5e-3,6e-3,7e-3,8e-3,9e-3,1e-2], "labelExpr": "datum.value == 0.01 ? '10⁻²' : datum.value == 0.001 ? '10⁻³' : datum.value == 0.0001 ? '10⁻⁴' : datum.value == 0.00001 ? '10⁻⁵' : ''", "tickSize": {"condition": {"test": "datum.value == 0.01 || datum.value == 0.001 || datum.value == 0.0001 || datum.value == 0.00001", "value": -5}, "value": -3}, "titleFontStyle": "italic", "titlePadding": 0}}
    }},
   {"data": {"name": "p1n"}, "mark": {"type": "circle", "size": 9, "color": "#009E73", "opacity": 1},
    "encoding": {
     "x": {"field": "snr", "type": "quantitative", "scale": {"type": "log", "domain": [10, 100], "nice": false}, "axis": null},
     "y": {"field": "err", "type": "quantitative", "scale": {"type": "log", "domain": [0.00001, 0.01], "nice": false}, "axis": null}
    }},
   {"data": {"name": "l1"}, "mark": {"type": "line"},
    "encoding": {
     "x": {"field": "snr", "type": "quantitative", "title": null, "scale": {"type": "log", "domain": [10, 100], "nice": false},
      "axis": {"orient": "top", "values": [10,20,30,40,50,60,70,80,90,100], "labels": false, "tickSize": {"condition": {"test": "datum.value == 10 || datum.value == 100", "value": -5}, "value": -3}}},
     "y": {"field": "err", "type": "quantitative", "title": null, "scale": {"type": "log", "domain": [0.00001, 0.01], "nice": false},
      "axis": {"orient": "right", "values": [1e-5,2e-5,3e-5,4e-5,5e-5,6e-5,7e-5,8e-5,9e-5,1e-4,2e-4,3e-4,4e-4,5e-4,6e-4,7e-4,8e-4,9e-4,1e-3,2e-3,3e-3,4e-3,5e-3,6e-3,7e-3,8e-3,9e-3,1e-2], "labels": false, "tickSize": {"condition": {"test": "datum.value == 0.01 || datum.value == 0.001 || datum.value == 0.0001 || datum.value == 0.00001", "value": -5}, "value": -3}}},
     "color": {"field": "kind", "type": "nominal", "scale": {"domain": ["Spinning", "Non-spinning"], "range": ["#0072B2", "#009E73"]}, "legend": {"orient": "none", "legendX": 165, "legendY": 14, "title": null}},
     "strokeDash": {"field": "kind", "type": "nominal", "scale": {"domain": ["Spinning", "Non-spinning"], "range": [[1, 0], [7, 5]]}, "legend": {"orient": "none", "legendX": 165, "legendY": 14, "title": null}},
     "strokeWidth": {"field": "kind", "type": "nominal", "scale": {"domain": ["Spinning", "Non-spinning"], "range": [1.4, 2]}, "legend": {"orient": "none", "legendX": 165, "legendY": 14, "title": null}}
    }}
  ],
  "resolve": {"axis": {"x": "independent", "y": "independent"}}
 },
 {
  "width": 309, "height": 242,
  "layer": [
   {"data": {"name": "p2s"}, "mark": {"type": "circle", "size": 9, "color": "#0072B2", "opacity": 1},
    "encoding": {
     "x": {"field": "snr", "type": "quantitative", "title": "Signal-to-noise ratio", "scale": {"type": "log", "domain": [10, 100], "nice": false},
      "axis": {"orient": "bottom", "values": [10,20,30,40,50,60,70,80,90,100], "labelExpr": "datum.value == 10 ? '10¹' : datum.value == 100 ? '10²' : ''", "labelFlush": true, "labelFlushOffset": 4, "tickSize": {"condition": {"test": "datum.value == 10 || datum.value == 100", "value": -5}, "value": -3}, "titlePadding": -4, "titleFontWeight": "normal"}},
     "y": {"field": "err", "type": "quantitative", "title": "σq/⟨q⟩", "scale": {"type": "log", "domain": [0.01, 1], "nice": false},
      "axis": {"orient": "left", "values": [0.01,0.02,0.03,0.04,0.05,0.06,0.07,0.08,0.09,0.1,0.2,0.3,0.4,0.5,0.6,0.7,0.8,0.9,1], "labelExpr": "datum.value == 1 ? '10⁰' : datum.value == 0.1 ? '10⁻¹' : datum.value == 0.01 ? '10⁻²' : ''", "tickSize": {"condition": {"test": "datum.value == 1 || datum.value == 0.1 || datum.value == 0.01", "value": -5}, "value": -3}, "titleFontStyle": "italic", "titlePadding": 0}}
    }},
   {"data": {"name": "p2n"}, "mark": {"type": "circle", "size": 9, "color": "#009E73", "opacity": 1},
    "encoding": {
     "x": {"field": "snr", "type": "quantitative", "scale": {"type": "log", "domain": [10, 100], "nice": false}, "axis": null},
     "y": {"field": "err", "type": "quantitative", "scale": {"type": "log", "domain": [0.01, 1], "nice": false}, "axis": null}
    }},
   {"data": {"name": "l2"}, "mark": {"type": "line"},
    "encoding": {
     "x": {"field": "snr", "type": "quantitative", "title": null, "scale": {"type": "log", "domain": [10, 100], "nice": false},
      "axis": {"orient": "top", "values": [10,20,30,40,50,60,70,80,90,100], "labels": false, "tickSize": {"condition": {"test": "datum.value == 10 || datum.value == 100", "value": -5}, "value": -3}}},
     "y": {"field": "err", "type": "quantitative", "title": null, "scale": {"type": "log", "domain": [0.01, 1], "nice": false},
      "axis": {"orient": "right", "values": [0.01,0.02,0.03,0.04,0.05,0.06,0.07,0.08,0.09,0.1,0.2,0.3,0.4,0.5,0.6,0.7,0.8,0.9,1], "labels": false, "tickSize": {"condition": {"test": "datum.value == 1 || datum.value == 0.1 || datum.value == 0.01", "value": -5}, "value": -3}}},
     "color": {"field": "kind", "type": "nominal", "scale": {"domain": ["Spinning", "Non-spinning"], "range": ["#0072B2", "#009E73"]}, "legend": {"orient": "none", "legendX": 165, "legendY": 14, "title": null}},
     "strokeDash": {"field": "kind", "type": "nominal", "scale": {"domain": ["Spinning", "Non-spinning"], "range": [[1, 0], [7, 5]]}, "legend": {"orient": "none", "legendX": 165, "legendY": 14, "title": null}},
     "strokeWidth": {"field": "kind", "type": "nominal", "scale": {"domain": ["Spinning", "Non-spinning"], "range": [1.4, 2]}, "legend": {"orient": "none", "legendX": 165, "legendY": 14, "title": null}}
    }}
  ],
  "resolve": {"axis": {"x": "independent", "y": "independent"}}
 },
 {
  "width": 309, "height": 243,
  "layer": [
   {"data": {"name": "p3s"}, "mark": {"type": "circle", "size": 9, "color": "#0072B2", "opacity": 1},
    "encoding": {
     "x": {"field": "snr", "type": "quantitative", "title": "Signal-to-noise ratio", "scale": {"type": "log", "domain": [10, 100], "nice": false},
      "axis": {"orient": "bottom", "values": [10,20,30,40,50,60,70,80,90,100], "labelExpr": "datum.value == 10 ? '10¹' : datum.value == 100 ? '10²' : ''", "labelFlush": true, "labelFlushOffset": 4, "tickSize": {"condition": {"test": "datum.value == 10 || datum.value == 100", "value": -5}, "value": -3}, "titlePadding": -4, "titleFontWeight": "normal"}},
     "y": {"field": "err", "type": "quantitative", "title": "σM/⟨M⟩", "scale": {"type": "log", "domain": [0.0001, 1], "nice": false},
      "axis": {"orient": "left", "values": [1e-4,2e-4,3e-4,4e-4,5e-4,6e-4,7e-4,8e-4,9e-4,1e-3,2e-3,3e-3,4e-3,5e-3,6e-3,7e-3,8e-3,9e-3,0.01,0.02,0.03,0.04,0.05,0.06,0.07,0.08,0.09,0.1,0.2,0.3,0.4,0.5,0.6,0.7,0.8,0.9,1], "labelExpr": "datum.value == 1 ? '10⁰' : datum.value == 0.1 ? '10⁻¹' : datum.value == 0.01 ? '10⁻²' : datum.value == 0.001 ? '10⁻³' : datum.value == 0.0001 ? '10⁻⁴' : ''", "tickSize": {"condition": {"test": "datum.value == 1 || datum.value == 0.1 || datum.value == 0.01 || datum.value == 0.001 || datum.value == 0.0001", "value": -5}, "value": -3}, "titleFontStyle": "italic", "titlePadding": 0}}
    }},
   {"data": {"name": "p3n"}, "mark": {"type": "circle", "size": 9, "color": "#009E73", "opacity": 1},
    "encoding": {
     "x": {"field": "snr", "type": "quantitative", "scale": {"type": "log", "domain": [10, 100], "nice": false}, "axis": null},
     "y": {"field": "err", "type": "quantitative", "scale": {"type": "log", "domain": [0.0001, 1], "nice": false}, "axis": null}
    }},
   {"data": {"name": "l3"}, "mark": {"type": "line"},
    "encoding": {
     "x": {"field": "snr", "type": "quantitative", "title": null, "scale": {"type": "log", "domain": [10, 100], "nice": false},
      "axis": {"orient": "top", "values": [10,20,30,40,50,60,70,80,90,100], "labels": false, "tickSize": {"condition": {"test": "datum.value == 10 || datum.value == 100", "value": -5}, "value": -3}}},
     "y": {"field": "err", "type": "quantitative", "title": null, "scale": {"type": "log", "domain": [0.0001, 1], "nice": false},
      "axis": {"orient": "right", "values": [1e-4,2e-4,3e-4,4e-4,5e-4,6e-4,7e-4,8e-4,9e-4,1e-3,2e-3,3e-3,4e-3,5e-3,6e-3,7e-3,8e-3,9e-3,0.01,0.02,0.03,0.04,0.05,0.06,0.07,0.08,0.09,0.1,0.2,0.3,0.4,0.5,0.6,0.7,0.8,0.9,1], "labels": false, "tickSize": {"condition": {"test": "datum.value == 1 || datum.value == 0.1 || datum.value == 0.01 || datum.value == 0.001 || datum.value == 0.0001", "value": -5}, "value": -3}}},
     "color": {"field": "kind", "type": "nominal", "scale": {"domain": ["Spinning", "Non-spinning"], "range": ["#0072B2", "#009E73"]}, "legend": {"orient": "none", "legendX": 165, "legendY": 14, "title": null}},
     "strokeDash": {"field": "kind", "type": "nominal", "scale": {"domain": ["Spinning", "Non-spinning"], "range": [[1, 0], [7, 5]]}, "legend": {"orient": "none", "legendX": 165, "legendY": 14, "title": null}},
     "strokeWidth": {"field": "kind", "type": "nominal", "scale": {"domain": ["Spinning", "Non-spinning"], "range": [1.4, 2]}, "legend": {"orient": "none", "legendX": 165, "legendY": 14, "title": null}}
    }}
  ],
  "resolve": {"axis": {"x": "independent", "y": "independent"}}
 }
],
"resolve": {"scale": {"color": "independent", "strokeDash": "independent", "strokeWidth": "independent"}}
}
